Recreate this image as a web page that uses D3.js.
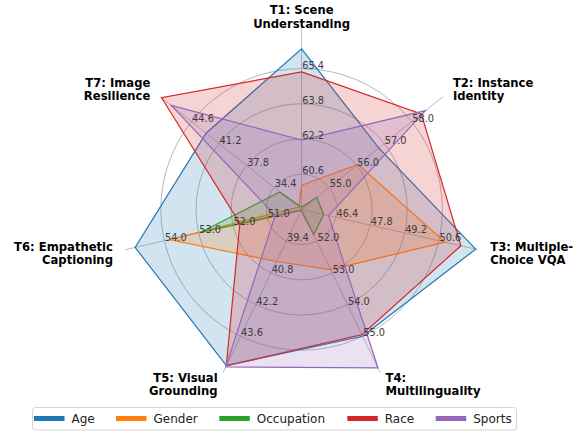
<!DOCTYPE html>
<html>
<head>
<meta charset="utf-8">
<script src="https://cdn.jsdelivr.net/npm/d3@7/dist/d3.min.js"></script>
<style>
  body { margin:0; background:#fff; }
  svg { display:block; font-family:"DejaVu Sans", sans-serif; }
</style>
</head>
<body>
<svg id="chart"></svg>
<script>
// data
var axisNames = [
  ['T1: Scene', 'Understanding'],
  ['T2: Instance', 'Identity'],
  ['T3: Multiple-', 'Choice VQA'],
  ['T4:', 'Multilinguality'],
  ['T5: Visual', 'Grounding'],
  ['T6: Empathetic', 'Captioning'],
  ['T7: Image', 'Resilience']
];
// tick labels of each axis (rings 1..4)
var tickT1 = ['60.6', '62.2', '63.8', '65.4'];
var tickT2 = ['55.0', '56.0', '57.0', '58.0'];
var tickT3 = ['46.4', '47.8', '49.2', '50.6'];
var tickT4 = ['52.0', '53.0', '54.0', '55.0'];
var tickT5 = ['39.4', '40.8', '42.2', '43.6'];
var tickT6 = ['51.0', '52.0', '53.0', '54.0'];
var tickT7 = ['34.4', '37.8', '41.2', '44.6'];
var tickLabels = [tickT1, tickT2, tickT3, tickT4, tickT5, tickT6, tickT7];

var seriesNames = ['Age', 'Gender', 'Occupation', 'Race', 'Sports'];
var ageVals        = [66.3, 56.8, 52.1, 55.0, 44.9, 54.85, 42.8];
var genderVals     = [60.1, 56.05, 50.85, 52.9, 40.3, 53.85, 31.35];
var occupationVals = [59.1, 54.55, 45.9, 51.8, 38.05, 52.95, 33.7];
var raceVals       = [65.25, 58.35, 51.5, 54.95, 44.9, 51.8, 48.3];
var sportsVals     = [62.15, 58.5, 46.1, 56.0, 44.95, 50.77, 47.1];
var seriesVals = [ageVals, genderVals, occupationVals, raceVals, sportsVals];
var colors = ['#1f77b4', '#ff7f0e', '#2ca02c', '#d62728', '#9467bd'];

/********* layout *********/
var width = 580, height = 431;
var cx = 301.6, cy = 209.4;
var ring = 35.2;          // pixel distance between grid rings
var spokeLen = 181;
var labelR = 193.5;

var svg = d3.select('#chart').attr('width', width).attr('height', height);
var gridG = svg.append('g');
var polyG = svg.append('g');
var tickG = svg.append('g');
var labelG = svg.append('g');

var n = axisNames.length;
var angle = d3.scaleLinear().domain([0, n]).range([0, 2 * Math.PI]);
function pt(i, r) {
  var a = angle(i);
  return [cx + r * Math.sin(a), cy - r * Math.cos(a)];
}

// one radial scale per axis, built from its tick labels
var scales = tickLabels.map(function(t) {
  var a = +t[0], step = +t[1] - +t[0];
  return d3.scaleLinear().domain([a - step, a + 4 * step]).range([0, 5 * ring]);
});

// grid circles
gridG.selectAll('circle').data([1, 2, 3, 4]).enter().append('circle')
  .attr('cx', cx).attr('cy', cy)
  .attr('r', function(d){ return d * ring; })
  .style('fill', 'none').style('stroke', '#b0b0b0').style('stroke-width', 0.9);
// spokes
gridG.selectAll('line').data(d3.range(n)).enter().append('line')
  .attr('x1', cx).attr('y1', cy)
  .attr('x2', function(i){ return pt(i, spokeLen)[0]; })
  .attr('y2', function(i){ return pt(i, spokeLen)[1]; })
  .style('stroke', '#b8b8b8').style('stroke-width', 0.9);

// series polygons
var line = d3.line().curve(d3.curveLinearClosed);
seriesVals.forEach(function(vals, s) {
  var pts = vals.map(function(v, i){ return pt(i, scales[i](v)); });
  polyG.append('path').attr('d', line(pts))
    .style('fill', colors[s]).style('fill-opacity', 0.2)
    .style('stroke', colors[s]).style('stroke-width', 1.2)
    .style('stroke-linejoin', 'miter');
});

// tick labels along each spoke
tickLabels.forEach(function(t, i) {
  t.forEach(function(lab, k) {
    var p = pt(i, (k + 1) * ring);
    tickG.append('text')
      .attr('x', p[0] + 11.5).attr('y', p[1] - 3.5)
      .attr('text-anchor', 'middle').attr('dominant-baseline', 'central')
      .style('font-size', '9.8px').style('fill', '#3b3b3b')
      .text(lab);
  });
});

// axis titles
axisNames.forEach(function(lines, i) {
  var p = pt(i, labelR);
  var s = Math.sin(angle(i));
  var anchor = Math.abs(s) < 0.1 ? 'middle' : (s > 0 ? 'start' : 'end');
  var t = labelG.append('text')
    .attr('text-anchor', anchor)
    .style('font-size', '11.6px').style('font-weight', 'bold').style('fill', '#000');
  lines.forEach(function(l, j) {
    t.append('tspan').attr('x', p[0])
      .attr('y', p[1] + 1 + (j - (lines.length - 1) / 2) * 13.2)
      .attr('dominant-baseline', 'central')
      .text(l);
  });
});

/********* legend *********/
var legG = svg.append('g');
legG.append('rect')
  .attr('x', 32.5).attr('y', 407.5).attr('width', 484).attr('height', 22.5)
  .attr('rx', 3).style('fill', '#fff').style('fill-opacity', 0.8)
  .style('stroke', '#d3d3d3').style('stroke-width', 1);
var legX = [34, 116, 219.3, 347.3, 435.7];
seriesNames.forEach(function(name, s) {
  legG.append('line')
    .attr('x1', legX[s]).attr('x2', legX[s] + 30.5)
    .attr('y1', 418.5).attr('y2', 418.5)
    .style('stroke', colors[s]).style('stroke-width', 5);
  legG.append('text')
    .attr('x', legX[s] + 37.5).attr('y', 418.5)
    .attr('dominant-baseline', 'central')
    .style('font-size', '12px').style('fill', '#222')
    .text(name);
});
</script>
</body>
</html>
